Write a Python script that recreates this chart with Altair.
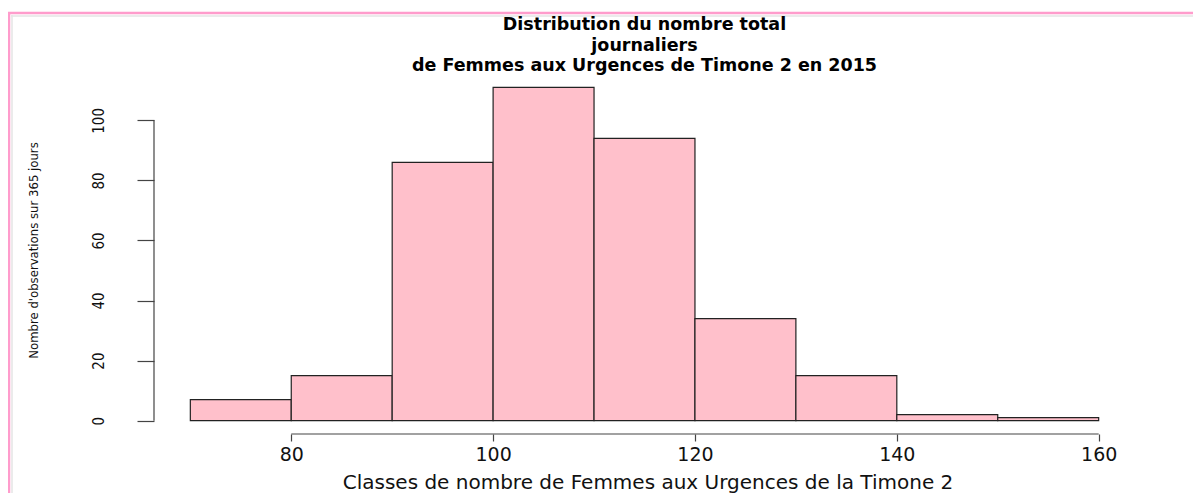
import altair as alt
import pandas as pd

# ---- data ----
bin_start = [70, 80, 90, 100, 110, 120, 130, 140, 150]
bin_end = [80, 90, 100, 110, 120, 130, 140, 150, 160]
counts = [7, 15, 86, 111, 94, 34, 15, 2, 1]

x_ticks = [80, 100, 120, 140, 160]
y_ticks = [0, 20, 40, 60, 80, 100]

title_lines = [
    "Distribution du nombre total",
    "journaliers",
    "de Femmes aux Urgences de Timone 2 en 2015",
]
x_title = "Classes de nombre de Femmes aux Urgences de la Timone 2"
y_title = "Nombre d'observations sur 365 jours"

df = pd.DataFrame({"start": bin_start, "end": bin_end, "count": counts})

# R-style 4% axis expansion
x_dom = [66.4, 163.6]
y_dom = [-4.44, 115.44]

W, H = 981, 360
PAD_L, PAD_T = 146, 66
TOTAL_W, TOTAL_H = 1185, 485

narrow = "Liberation Sans Narrow, Arial Narrow, DejaVu Sans Condensed, Liberation Sans"
wide = "DejaVu Sans"
axis_col = "#444444"

xscale = alt.Scale(domain=x_dom, nice=False, zero=False)
yscale = alt.Scale(domain=y_dom, nice=False, zero=False)

bars = alt.Chart(df).mark_rect(
    fill="#FFC0CB", stroke="#222222", strokeWidth=1.2
).encode(
    x=alt.X(
        "start:Q", scale=xscale,
        axis=alt.Axis(
            values=x_ticks, domain=False, grid=False, tickSize=7, tickColor=axis_col,
            tickWidth=1.2, labelFont=wide, labelFontSize=19, labelColor="#111111",
            labelBaseline="alphabetic", labelPadding=19, labelFlush=False,
            title=x_title, titleFont=wide, titleFontSize=20, titleFontWeight="normal",
            titleColor="#111111", titleBaseline="alphabetic", titleX=W / 2 + 3, titleY=54,
            titleAlign="center",
        ),
    ),
    x2="end:Q",
    y=alt.Y(
        "count:Q", scale=yscale,
        axis=alt.Axis(
            values=y_ticks, domain=False, grid=False, tickSize=17, tickColor=axis_col,
            tickWidth=1.2, labelAngle=270, labelFont=narrow, labelFontSize=15,
            labelColor="#111111", labelAlign="center", labelBaseline="alphabetic",
            labelPadding=34, labelFlush=False,
            title=y_title, titleFont=narrow, titleFontSize=13, titleFontWeight="normal",
            titleColor="#111111", titleAngle=270, titleAlign="center",
            titleBaseline="alphabetic", titleX=-117, titleY=176,
        ),
    ),
    y2=alt.Y2(datum=0),
)

# R-style axis lines (from first to last tick)
y_axis_line = alt.Chart().mark_rule(color=axis_col, strokeWidth=1.2).encode(
    x=alt.value(0), y=alt.datum(min(y_ticks)), y2=alt.datum(max(y_ticks))
)
x_axis_line = alt.Chart().mark_rule(color=axis_col, strokeWidth=1.2).encode(
    y=alt.value(H), x=alt.datum(min(x_ticks)), x2=alt.datum(max(x_ticks))
)

# main title (three centred bold lines)
title = alt.Chart().mark_text(
    font=wide, fontSize=17.5, fontWeight="bold", color="#000000",
    align="center", baseline="alphabetic", lineHeight=20.5,
).encode(x=alt.value(W / 2), y=alt.value(30 - PAD_T - 8), text=alt.value(title_lines))

# pink page frame (top and left edges visible)
frame_top = alt.Chart().mark_rule(color="#ff9ccc", strokeWidth=2.5).encode(
    x=alt.value(-PAD_L), x2=alt.value(TOTAL_W - PAD_L), y=alt.value(5 - PAD_T)
)
frame_left = alt.Chart().mark_rule(color="#ff9ccc", strokeWidth=2.5).encode(
    x=alt.value(1 - PAD_L), y=alt.value(4 - PAD_T), y2=alt.value(TOTAL_H - PAD_T)
)
frame_top2 = alt.Chart().mark_rule(color="#e4e4e4", strokeWidth=1.5).encode(
    x=alt.value(3 - PAD_L), x2=alt.value(TOTAL_W - PAD_L), y=alt.value(8 - PAD_T)
)
frame_left2 = alt.Chart().mark_rule(color="#e4e4e4", strokeWidth=1.5).encode(
    x=alt.value(4 - PAD_L), y=alt.value(7 - PAD_T), y2=alt.value(TOTAL_H - PAD_T)
)

chart = alt.layer(
    frame_top2, frame_left2, frame_top, frame_left,
    bars, y_axis_line, x_axis_line, title,
).properties(
    width=W, height=H,
    autosize=alt.AutoSizeParams(type="none"),
    padding={"left": PAD_L, "top": PAD_T, "right": TOTAL_W - PAD_L - W, "bottom": TOTAL_H - PAD_T - H},
    background="white",
).configure_view(stroke=None)

chart.save("out.html", embed_options={"renderer": "svg", "actions": False})
